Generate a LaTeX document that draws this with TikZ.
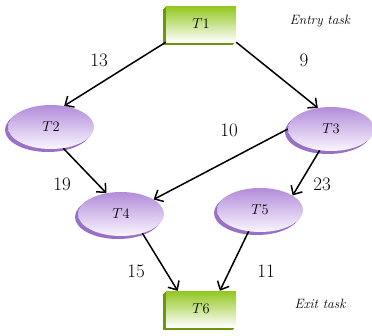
\documentclass[tikz,border=0pt]{standalone}
\usetikzlibrary{shapes.geometric,shadows,arrows.meta}
\definecolor{boxgreen}{RGB}{146,198,30}
\definecolor{boxdark}{RGB}{108,150,12}
\definecolor{elltop}{RGB}{178,140,218}
\definecolor{ellbot}{RGB}{250,246,255}
\definecolor{elldark}{RGB}{152,112,198}
\tikzset{
  x=1pt, y=-1pt,
  taskbox/.style={rectangle, minimum width=70pt, minimum height=36pt, inner sep=0pt,
    top color=boxgreen, middle color=boxgreen!75!white, bottom color=white,
    general shadow={shadow xshift=-1pt, shadow yshift=-1pt, fill=boxdark},
    general shadow={shadow xshift=-2pt, shadow yshift=-2pt, fill=boxdark},
    general shadow={shadow xshift=-3pt, shadow yshift=-3pt, fill=boxdark},
    font=\fontsize{14}{16}\selectfont},
  taskell/.style={ellipse, minimum width=86pt, minimum height=44pt, inner sep=0pt,
    top color=elltop, bottom color=ellbot,
    general shadow={shadow xshift=-1pt, shadow yshift=-1pt, fill=elldark},
    general shadow={shadow xshift=-2pt, shadow yshift=-2pt, fill=elldark},
    general shadow={shadow xshift=-3pt, shadow yshift=-3pt, fill=elldark},
    font=\fontsize{14}{16}\selectfont},
  conn/.style={draw=black, line width=1.5pt, -{Straight Barb[length=7pt,width=13pt,line width=1.5pt]}},
  wlabel/.style={font=\fontsize{19}{21}\selectfont, text=black},
  note/.style={font=\fontsize{13.5}{15}\selectfont\itshape, text=black}
}
\begin{document}
\begin{tikzpicture}
\useasboundingbox (0,0) rectangle (372,335);
\node[taskbox] (T1) at (201,24) {$T1$};
\node[taskbox] (T6) at (201,309) {$T6$};
\node[taskell] (T2) at (51,127) {$T2$};
\node[taskell] (T3) at (331,129) {$T3$};
\node[taskell] (T4) at (121,214) {$T4$};
\node[taskell] (T5) at (260,210) {$T5$};

\draw[conn] (T1.south west) -- (T2.58);
\draw[conn] (T1.south east) -- (T3.122);
\draw[conn] (T2.300) -- (T4.125);
\draw[conn] (T3.180) -- (T4.24);
\draw[conn] (T3.242) -- (T5.24);
\draw[conn] (T4.318) -- (T6.142);
\draw[conn] (T5.242) -- (T6.44);

\node[wlabel] (w12) at (99,60) {13};
\node[wlabel] (w13) at (304,60) {9};
\node[wlabel] (w34) at (229,130) {10};
\node[wlabel] (w24) at (62,184) {19};
\node[wlabel] (w35) at (322,184) {23};
\node[wlabel] (w46) at (136,271) {15};
\node[wlabel] (w56) at (266,271) {11};
\node[note] (entry) at (320,21) {Entry task};
\node[note] (exit) at (320,304) {Exit task};
\end{tikzpicture}
\end{document}
